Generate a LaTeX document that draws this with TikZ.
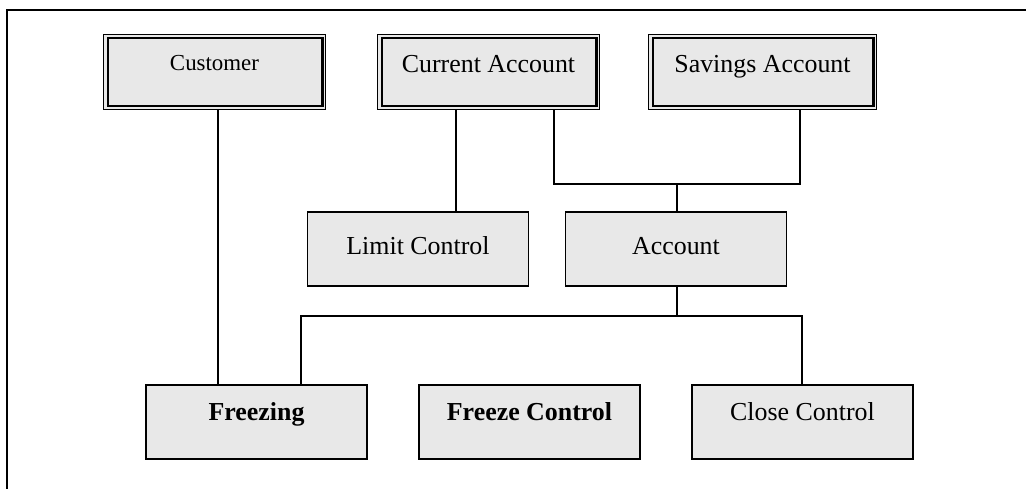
\documentclass[tikz,border=0pt]{standalone}
\usepackage{fontspec}
\setmainfont{Liberation Serif}
\usetikzlibrary{calc}
\definecolor{boxgray}{RGB}{232,232,232}
\begin{document}
\begin{tikzpicture}[x=1pt,y=-1pt,
  box/.style={draw=black, fill=boxgray, line width=1.8pt, inner sep=0pt,
    minimum width=#1, minimum height=74pt},
  box/.default=221pt,
  entity/.style={draw=black, fill=boxgray, line width=1.8pt, inner sep=0pt,
    minimum width=#1, minimum height=75pt},
  lbl/.style={anchor=base, inner sep=0pt, font=\fontsize{25.9}{30}\selectfont},
  link/.style={draw=black, line width=1.7pt},
  frameline/.style={draw=black, line width=2.2pt}]
\useasboundingbox (0,0) rectangle (1026,489);

% open frame: top and left edges only
\coordinate (fl) at (7,489);
\coordinate (fc) at (7,10);
\coordinate (fr) at (1026,10);
\draw[frameline] (fl) -- (fc) -- (fr);

% entity boxes with a double border
\node[entity=222pt] (cust) at (214.5,72) {};
\node[entity=222pt] (curr) at (488.5,72) {};
\node[entity=228pt] (sav)  at (762.5,72) {};
\foreach \e in {cust,curr,sav}{
  \draw[line width=2.6pt] ($(\e.north west)+(5.5,4.6)$) rectangle ($(\e.south east)+(-4.2,-4.4)$);
}
\node[lbl, font=\fontsize{22.9}{27}\selectfont] (custT) at (214.5,71) {Customer};
\node[lbl] (currT) at (488.5,73) {Current Account};
\node[lbl] (savT)  at (762.5,73) {Savings Account};

% process boxes
\node[box] (limit) at (418,249) {};
\node[box] (acct)  at (676,249) {};
\node[box] (freezing) at (256.5,422) {};
\node[box] (fctrl) at (529.5,422) {};
\node[box] (cctrl) at (802.5,422) {};
\node[lbl] (limitT) at (418,255) {Limit Control};
\node[lbl] (acctT)  at (676,255) {Account};
\node[lbl, font=\fontsize{25.9}{30}\selectfont\bfseries] (freezingT) at (256.5,420.5) {Freezing};
\node[lbl, font=\fontsize{25.9}{30}\selectfont\bfseries] (fctrlT) at (529.5,420.5) {Freeze Control};
\node[lbl] (cctrlT) at (802.5,420.5) {Close Control};

% connectors
\draw[link] (cust.south -| 218,0) -- (freezing.north -| 218,0);
\draw[link] (curr.south -| 456,0) -- (limit.north -| 456,0);
\coordinate (accj) at (677,184);
\draw[link] (curr.south -| 554,0) |- (accj) -| (sav.south -| 800,0);
\draw[link] (accj) -- (acct.north -| accj);
\coordinate (subj) at (677,316);
\draw[link] (acct.south -| subj) -- (subj);
\draw[link] (freezing.north -| 301,0) |- (subj) -| (cctrl.north -| 802,0);
\draw[link] (fctrl.north -| 542,0) -- (fctrl.north -| 542,0 |- subj);
\end{tikzpicture}
\end{document}
